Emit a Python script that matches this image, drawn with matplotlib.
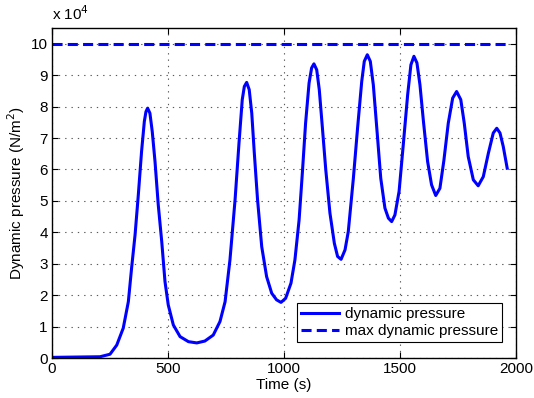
import numpy as np
import matplotlib
matplotlib.use('Agg')
import matplotlib.pyplot as plt
from matplotlib.ticker import FuncFormatter

plt.rcParams['font.family'] = ['Liberation Sans', 'DejaVu Sans']
plt.rcParams['font.size'] = 11

# values (time in s, pressure in units of 1e4 N/m^2)
time_s = [0, 100, 207, 250, 279, 307, 329, 343, 358, 372, 386, 398, 405, 412, 422,
          432, 444, 458, 473, 487, 501, 523, 552, 588, 624, 659, 695, 724, 746,
          767, 789, 806, 820, 829, 839, 850, 861, 872, 886, 904, 925, 947, 968,
          987, 1007, 1030, 1047, 1065, 1079, 1093, 1108, 1119, 1129, 1141, 1152,
          1165, 1180, 1198, 1217, 1231, 1246, 1263, 1277, 1299, 1317, 1335, 1346,
          1359, 1372, 1385, 1400, 1417, 1435, 1450, 1464, 1478, 1496, 1514, 1533,
          1547, 1560, 1573, 1586, 1601, 1619, 1636, 1654, 1672, 1689, 1708, 1727,
          1744, 1762, 1777, 1794, 1816, 1837, 1859, 1881, 1902, 1917, 1931, 1945,
          1962]
pressure = [0.02, 0.03, 0.04, 0.12, 0.41, 0.95, 1.79, 2.86, 3.92, 5.19, 6.57, 7.53,
            7.84, 7.95, 7.79, 7.21, 6.25, 4.87, 3.7, 2.43, 1.69, 1.05, 0.68, 0.52,
            0.48, 0.54, 0.73, 1.16, 1.79, 3.12, 5.03, 6.84, 8.22, 8.64, 8.77, 8.54,
            7.79, 6.52, 5.03, 3.54, 2.59, 2.06, 1.85, 1.77, 1.9, 2.38, 3.12, 4.39,
            5.88, 7.47, 8.75, 9.23, 9.36, 9.17, 8.54, 7.37, 5.99, 4.61, 3.65, 3.23,
            3.14, 3.44, 4.02, 5.72, 7.31, 8.8, 9.44, 9.65, 9.44, 8.69, 7.31, 5.72,
            4.77, 4.45, 4.34, 4.55, 5.3, 6.78, 8.38, 9.33, 9.6, 9.39, 8.69, 7.53,
            6.25, 5.51, 5.17, 5.4, 6.28, 7.47, 8.27, 8.48, 8.22, 7.47, 6.41, 5.67,
            5.48, 5.77, 6.52, 7.16, 7.31, 7.16, 6.73, 6.04]
pressure = [p * 1e4 for p in pressure]
max_pressure = 1e5

fig = plt.figure(figsize=(5.34, 3.98), dpi=100)
ax = fig.add_axes([0.0974, 0.1005, 0.8689, 0.8291])

ax.plot(time_s, pressure, color='#0000ff', lw=2.2, solid_joinstyle='round',
        label='dynamic pressure')
ax.plot([time_s[0], time_s[-1]], [max_pressure, max_pressure], color='#0000ff',
        lw=2.2, dashes=(3.3, 1.7), label='max dynamic pressure')

ax.set_xlim(0, 2000)
ax.set_ylim(0, 1.05e5)
ax.set_xticks(np.arange(0, 2001, 500))
ax.set_yticks(np.arange(0, 1.01e5, 1e4))
ax.yaxis.set_major_formatter(FuncFormatter(lambda v, p: '%d' % round(v / 1e4)))
ax.grid(True, linestyle=(0, (1.2, 4.5)), color='0.35', lw=0.8)
ax.tick_params(direction='in', top=True, right=True, length=4, width=0.8, pad=3)
for s in ax.spines.values():
    s.set_linewidth(1.0)

ax.set_xlabel('Time (s)', labelpad=1)
ax.set_ylabel('Dynamic pressure (N/m$^2$)', labelpad=3)
ax.text(0, 1.015, r'x 10$^4$', transform=ax.transAxes, ha='left', va='bottom')

leg = ax.legend(loc='lower right', bbox_to_anchor=(0.97, 0.048), fancybox=False,
                edgecolor='black', framealpha=1, handlelength=2.5,
                handletextpad=0.4, borderaxespad=0, borderpad=0.25,
                labelspacing=0.2)
leg.get_frame().set_linewidth(0.8)

fig.savefig('out.png', dpi=100)
